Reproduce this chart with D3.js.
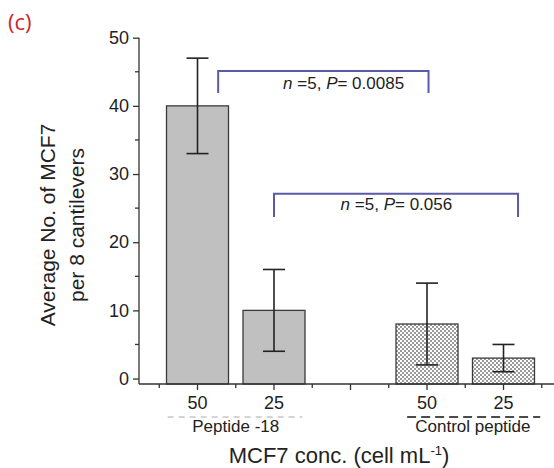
<!DOCTYPE html>
<html>
<head>
<meta charset="utf-8">
<script src="https://cdn.jsdelivr.net/npm/d3@7"></script>
<style>
  html, body { margin: 0; padding: 0; background: #fff; }
  svg { display: block; font-family: "Liberation Sans", Arial, sans-serif; }
</style>
</head>
<body>
<svg id="chart" width="554" height="468"></svg>
<script>
// Cell counts per concentration (slot 2 is an empty gap between groups)
const slots        = [0, 1, 3, 4];
const concLabels   = ["50", "25", "50", "25"];
const meanCounts   = [40, 10, 8, 3];
const errLow       = [33, 4, 2, 1];
const errHigh      = [47, 16, 14, 5];
const patterned    = [false, false, true, true];

const yTicks       = [0, 10, 20, 30, 40, 50];
const yMinorTicks  = [5, 15, 25, 35, 45];
const xMajorTicks  = [0, 1, 2, 3, 4];
const xMinorTicks  = [-0.5, 0.5, 1.5, 2.5, 3.5, 4.5];

// Group underline spans (in slot units) and names
const groupNames   = ["Peptide -18", "Control peptide"];
const groupSpan    = [[-0.39, 1.37], [2.74, 4.48]];
const groupCenter  = [0.5, 3.6];

// Significance brackets: ends (slot units), top and foot levels, text
const bracketFrom  = [0.27, 1.0];
const bracketTo    = [3.02, 4.19];
const bracketTop   = [45.1, 27.1];
const bracketFoot  = [41.9, 23.7];
const bracketTextX = [1.91, 2.6];
const bracketTextY = [42.5, 24.7];
const bracketN     = ["5", "5"];
const bracketP     = ["0.0085", "0.056"];

const svg = d3.select("#chart");

const x = d3.scaleLinear().domain([0, 4]).range([197.5, 503.5]);
const y = d3.scaleLinear().domain([-0.8, 50]).range([384, 37.7]);
const axisLeft = 139, axisRight = 554;
const barW = 62;

// Checkered fill for the control peptide bars
const defs = svg.append("defs");
const pat = defs.append("pattern").attr("id", "checker")
  .attr("patternUnits", "userSpaceOnUse").attr("width", 4).attr("height", 4);
pat.append("rect").attr("width", 4).attr("height", 4).attr("fill", "#9a9a9a");
pat.append("rect").attr("width", 2).attr("height", 2).attr("fill", "#fff");
pat.append("rect").attr("x", 2).attr("y", 2).attr("width", 2).attr("height", 2).attr("fill", "#fff");

// Bars
svg.append("g").selectAll("rect").data(meanCounts).join("rect")
  .attr("x", (d, i) => x(slots[i]) - barW / 2)
  .attr("y", d => y(d))
  .attr("width", barW)
  .attr("height", d => y(-0.8) - y(d))
  .attr("fill", (d, i) => patterned[i] ? "url(#checker)" : "#c0c0c0")
  .attr("stroke", "#3a3a3a").attr("stroke-width", 1.3);

// Error bars
const eb = svg.append("g").attr("stroke", "#222").attr("stroke-width", 1.6).attr("fill", "none");
meanCounts.forEach((d, i) => {
  const cx = x(slots[i]), cap = 11;
  eb.append("line").attr("x1", cx).attr("x2", cx).attr("y1", y(errLow[i])).attr("y2", y(errHigh[i]));
  eb.append("line").attr("x1", cx - cap).attr("x2", cx + cap).attr("y1", y(errHigh[i])).attr("y2", y(errHigh[i]));
  eb.append("line").attr("x1", cx - cap).attr("x2", cx + cap).attr("y1", y(errLow[i])).attr("y2", y(errLow[i]));
});

// Y axis
const yAxis = svg.append("g").attr("transform", `translate(${axisLeft},0)`);
yAxis.call(d3.axisLeft(y).tickValues(yTicks).tickSize(6).tickSizeOuter(0).tickPadding(4));
yAxis.append("g").selectAll("line").data(yMinorTicks).join("line")
  .attr("x1", 0).attr("x2", -4).attr("y1", d => y(d)).attr("y2", d => y(d))
  .attr("stroke", "#333").attr("stroke-width", 1.3);
yAxis.select(".domain").attr("d", `M0,${y(50)}V${y(-0.8)}`);
yAxis.selectAll("path,line").attr("stroke", "#333").attr("stroke-width", 1.3);
yAxis.selectAll("text").attr("font-size", 18).attr("fill", "#222")
  .attr("font-family", "Liberation Sans, Arial, sans-serif");

// X axis
const xAxis = svg.append("g").attr("transform", `translate(0,${y(-0.8)})`);
xAxis.append("line").attr("x1", axisLeft).attr("x2", axisRight).attr("y1", 0).attr("y2", 0)
  .attr("stroke", "#333").attr("stroke-width", 1.3);
xAxis.selectAll("line.major").data(xMajorTicks).join("line").attr("class", "major")
  .attr("x1", d => x(d)).attr("x2", d => x(d)).attr("y1", 0).attr("y2", 6)
  .attr("stroke", "#333").attr("stroke-width", 1.3);
xAxis.selectAll("line.minor").data(xMinorTicks).join("line").attr("class", "minor")
  .attr("x1", d => x(d)).attr("x2", d => x(d)).attr("y1", 0).attr("y2", 4)
  .attr("stroke", "#333").attr("stroke-width", 1.3);
xAxis.selectAll("text").data(concLabels).join("text")
  .attr("x", (d, i) => x(slots[i])).attr("y", 25)
  .attr("text-anchor", "middle").attr("font-size", 18).attr("fill", "#222")
  .text(d => d);

// Group underlines and names
const groupStroke = ["#aaaaaa", "#111111"];
const groupDash = ["6,5", "9,5"];
groupNames.forEach((name, i) => {
  svg.append("line")
    .attr("x1", x(groupSpan[i][0])).attr("x2", x(groupSpan[i][1]))
    .attr("y1", 417).attr("y2", 417)
    .attr("stroke", groupStroke[i]).attr("stroke-width", i ? 1.6 : 1.2)
    .attr("stroke-dasharray", groupDash[i]);
  svg.append("text").attr("x", x(groupCenter[i])).attr("y", 432)
    .attr("text-anchor", "middle").attr("font-size", 17).attr("fill", "#222")
    .text(name);
});

// Axis titles
const xt = svg.append("text").attr("x", 339).attr("y", 463)
  .attr("text-anchor", "middle").attr("font-size", 22).attr("fill", "#222");
xt.append("tspan").text("MCF7 conc. (cell mL");
xt.append("tspan").attr("dy", -8).attr("font-size", 13).text("-1");
xt.append("tspan").attr("dy", 8).text(")");

const yt = svg.append("text").attr("transform", "translate(0,225) rotate(-90)")
  .attr("text-anchor", "middle").attr("font-size", 21).attr("fill", "#222");
yt.append("tspan").attr("x", 0).attr("y", 55).text("Average No. of MCF7");
yt.append("tspan").attr("x", 0).attr("y", 84).text("per 8 cantilevers");

// Significance brackets
bracketFrom.forEach((f, i) => {
  const x0 = x(f), x1 = x(bracketTo[i]);
  svg.append("path")
    .attr("d", `M${x0},${y(bracketFoot[i])}V${y(bracketTop[i])}H${x1}V${y(bracketFoot[i])}`)
    .attr("fill", "none").attr("stroke", "#5a5aa8").attr("stroke-width", 2);
  const t = svg.append("text").attr("x", x(bracketTextX[i])).attr("y", y(bracketTextY[i]))
    .attr("text-anchor", "middle").attr("font-size", 17).attr("fill", "#222");
  t.append("tspan").attr("font-style", "italic").text("n");
  t.append("tspan").text(" =" + bracketN[i] + ", ");
  t.append("tspan").attr("font-style", "italic").text("P");
  t.append("tspan").text("= " + bracketP[i]);
});

// Panel letter
svg.append("text").attr("x", 8).attr("y", 30)
  .attr("font-family", "Open Sans, sans-serif").attr("font-size", 22)
  .attr("fill", "#d2232a").text("(c)");
</script>
</body>
</html>
